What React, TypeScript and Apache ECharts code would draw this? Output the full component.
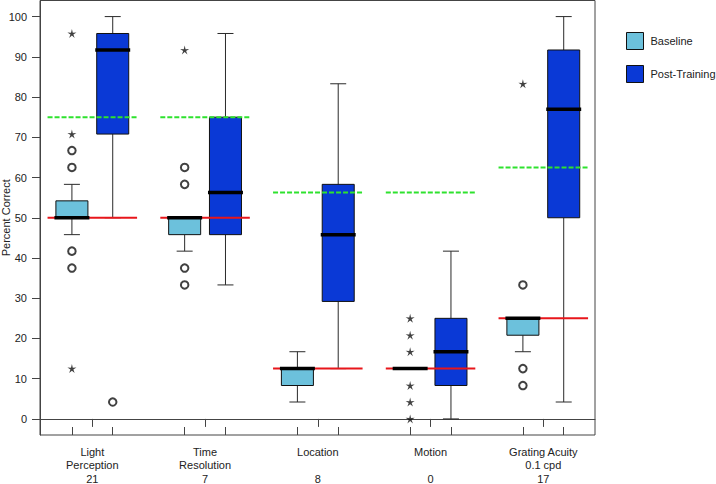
import React, { useEffect, useRef } from 'react';
import * as echarts from 'echarts';

// ---------- data ----------
const categoryLabels = [
  'Light\nPerception\n21',
  'Time\nResolution\n7',
  'Location\n\n8',
  'Motion\n\n0',
  'Grating Acuity\n0.1 cpd\n17',
];
const categoryPositions = [1, 2, 3, 4, 5];
const yTicks = [0, 10, 20, 30, 40, 50, 60, 70, 80, 90, 100];

// [lower whisker, Q1, median, Q3, upper whisker]
const baselineStats = [
  [45.8, 50, 50, 54.2, 58.3],
  [41.7, 45.8, 50, 50, 50],
  [4.2, 8.3, 12.5, 12.5, 16.7],
  [12.5, 12.5, 12.5, 12.5, 12.5],
  [16.7, 20.8, 25, 25, 25],
];
const postStats = [
  [50, 70.8, 91.7, 95.8, 100],
  [33.3, 45.8, 56.25, 75, 95.8],
  [12.5, 29.2, 45.8, 58.3, 83.3],
  [0, 8.3, 16.7, 25, 41.7],
  [4.2, 50, 77, 91.7, 100],
];

// outliers: [category position, value]
const baselineCircles = [
  [1, 66.7], [1, 62.5], [1, 41.7], [1, 37.5],
  [2, 62.5], [2, 58.3], [2, 37.5], [2, 33.3],
  [5, 33.3], [5, 12.5], [5, 8.3],
];
const baselineStars = [
  [1, 95.8], [1, 70.8], [1, 12.5],
  [2, 91.7],
  [4, 25], [4, 20.8], [4, 16.7], [4, 8.3], [4, 4.2], [4, 0],
  [5, 83.3],
];
const postCircles = [[1, 4.2]];
const postStars: number[][] = [];

const chanceLevel = [50, 50, 12.5, 12.5, 25];
const criterionLevel = [75, 75, 56.25, 56.25, 62.5];

// ---------- layout / style ----------
const X_MIN = 0.536;
const X_MAX = 5.4585;
const OFFSET = 0.181;
const BOX_HALF = 0.142;
const MEDIAN_HALF = 0.155;
const LINE_HALF = 0.397;
const CAP_HALF_PX = 8;

const BASE_COLOR = '#6cc1dc';
const POST_COLOR = '#0a39d6';
const RED = '#e8161b';
const GREEN = '#2ee22e';
const FONT = '"Liberation Sans", Arial, sans-serif';
const TEXT = '#222';
const AXIS = '#444';

const STAR_PATH =
  'path://M0,-10 L1.9,-2.6 L9.51,-3.09 L3.1,1.0 L5.88,8.09 L0,3.3 L-5.88,8.09 L-3.1,1.0 L-9.51,-3.09 L-1.9,-2.6 Z';

function boxRenderer(color: string) {
  return (_params: any, api: any) => {
    const x = api.value(0);
    const lo = api.value(1);
    const q1 = api.value(2);
    const q3 = api.value(4);
    const hi = api.value(5);
    const [cx, yHi] = api.coord([x, hi]);
    const yLo = api.coord([x, lo])[1];
    const yQ1 = api.coord([x, q1])[1];
    const yQ3 = api.coord([x, q3])[1];
    const xl = api.coord([x - BOX_HALF, q1])[0];
    const xr = api.coord([x + BOX_HALF, q1])[0];
    const ws = { stroke: '#2a2a2a', lineWidth: 1 };
    return {
      type: 'group',
      children: [
        { type: 'line', shape: { x1: cx, y1: yQ3, x2: cx, y2: yHi }, style: ws },
        { type: 'line', shape: { x1: cx - CAP_HALF_PX, y1: yHi, x2: cx + CAP_HALF_PX, y2: yHi }, style: ws },
        { type: 'line', shape: { x1: cx, y1: yQ1, x2: cx, y2: yLo }, style: ws },
        { type: 'line', shape: { x1: cx - CAP_HALF_PX, y1: yLo, x2: cx + CAP_HALF_PX, y2: yLo }, style: ws },
        {
          type: 'rect',
          shape: { x: xl, y: yQ3, width: xr - xl, height: yQ1 - yQ3 },
          style: { fill: color, stroke: '#111', lineWidth: 1 },
        },
      ],
    };
  };
}

export default function App() {
  const ref = useRef<HTMLDivElement>(null);

  useEffect(() => {
    if (!ref.current) return;
    const chart = echarts.init(ref.current, null, { renderer: 'svg' });

    const baseBoxData = baselineStats.map((s, i) => [categoryPositions[i] - OFFSET, ...s]);
    const postBoxData = postStats.map((s, i) => [categoryPositions[i] + OFFSET, ...s]);
    const medianData = [
      ...baselineStats.map((s, i) => [categoryPositions[i] - OFFSET, s[2]]),
      ...postStats.map((s, i) => [categoryPositions[i] + OFFSET, s[2]]),
    ];
    const refData = categoryPositions.map((p, i) => [p, chanceLevel[i], criterionLevel[i]]);
    const boxTickPositions = categoryPositions.flatMap((p) => [p - OFFSET, p + OFFSET]);

    const option: any = {
      animation: false,
      backgroundColor: '#fff',
      textStyle: { fontFamily: FONT },
      grid: {
        left: 40,
        right: 121,
        top: 0.5,
        bottom: 49,
        show: true,
        borderColor: AXIS,
        borderWidth: 1,
        outerBoundsMode: 'none',
        containLabel: false,
      },
      legend: {
        orient: 'vertical',
        left: 626,
        top: 32,
        padding: 0,
        itemWidth: 17,
        itemHeight: 17,
        itemGap: 15,
        selectedMode: false,
        textStyle: { fontSize: 11, color: TEXT, fontFamily: FONT, padding: [0, 0, 0, 2], overflow: 'none' },
        data: [
          { name: 'Baseline', icon: 'rect', itemStyle: { color: BASE_COLOR, borderColor: '#111', borderWidth: 1 } },
          { name: 'Post-Training', icon: 'rect', itemStyle: { color: POST_COLOR, borderColor: '#111', borderWidth: 1 } },
        ],
      },
      xAxis: [
        {
          type: 'value',
          min: X_MIN,
          max: X_MAX,
          axisLine: { show: true, lineStyle: { color: AXIS, width: 1 } },
          axisTick: {
            show: true,
            inside: false,
            length: 8,
            customValues: categoryPositions,
            lineStyle: { color: AXIS },
          },
          axisLabel: {
            show: true,
            customValues: categoryPositions,
            formatter: (v: number) => categoryLabels[Math.round(v) - 1] ?? '',
            fontSize: 11,
            lineHeight: 13.5,
            color: TEXT,
            margin: 10,
            fontFamily: FONT,
          },
          splitLine: { show: false },
        },
        {
          type: 'value',
          min: X_MIN,
          max: X_MAX,
          position: 'bottom',
          axisLine: { show: false },
          axisTick: {
            show: true,
            inside: true,
            length: 8,
            customValues: boxTickPositions,
            lineStyle: { color: AXIS },
          },
          axisLabel: { show: false },
          splitLine: { show: false },
        },
      ],
      yAxis: {
        type: 'value',
        min: -4,
        max: 104,
        name: 'Percent Correct',
        nameLocation: 'middle',
        nameGap: 29,
        nameRotate: 90,
        nameMoveOverlap: false,
        nameTextStyle: { fontSize: 11, color: TEXT, fontFamily: FONT },
        axisLine: { show: true, lineStyle: { color: AXIS } },
        axisTick: { show: true, length: 8, customValues: yTicks, lineStyle: { color: AXIS } },
        axisLabel: {
          customValues: yTicks,
          fontSize: 11,
          color: TEXT,
          margin: 13,
          fontFamily: FONT,
        },
        splitLine: { show: false },
      },
      series: [
        {
          name: 'Baseline',
          type: 'custom',
          xAxisIndex: 0,
          renderItem: boxRenderer(BASE_COLOR),
          itemStyle: { color: BASE_COLOR },
          encode: { x: 0, y: [1, 2, 3, 4, 5] },
          data: baseBoxData,
          z: 2,
        },
        {
          name: 'Post-Training',
          type: 'custom',
          xAxisIndex: 0,
          renderItem: boxRenderer(POST_COLOR),
          itemStyle: { color: POST_COLOR },
          encode: { x: 0, y: [1, 2, 3, 4, 5] },
          data: postBoxData,
          z: 2,
        },
        {
          name: 'levels',
          type: 'custom',
          xAxisIndex: 0,
          encode: { x: 0, y: [1, 2] },
          renderItem: (_p: any, api: any) => {
            const x = api.value(0);
            const red = api.value(1);
            const green = api.value(2);
            const [rx1, ry] = api.coord([x - LINE_HALF, red]);
            const rx2 = api.coord([x + LINE_HALF, red])[0];
            const [gx1, gy] = api.coord([x - LINE_HALF, green]);
            const gx2 = api.coord([x + LINE_HALF, green])[0];
            return {
              type: 'group',
              children: [
                { type: 'line', shape: { x1: rx1, y1: ry, x2: rx2, y2: ry }, style: { stroke: RED, lineWidth: 2 } },
                {
                  type: 'line',
                  shape: { x1: gx1, y1: gy, x2: gx2, y2: gy },
                  style: { stroke: GREEN, lineWidth: 2, lineDash: [5, 2] },
                },
              ],
            };
          },
          data: refData,
          z: 3,
        },
        {
          name: 'medians',
          type: 'custom',
          xAxisIndex: 0,
          encode: { x: 0, y: 1 },
          renderItem: (_p: any, api: any) => {
            const x = api.value(0);
            const m = api.value(1);
            const [x1, y] = api.coord([x - MEDIAN_HALF, m]);
            const x2 = api.coord([x + MEDIAN_HALF, m])[0];
            return { type: 'line', shape: { x1, y1: y, x2, y2: y }, style: { stroke: '#000', lineWidth: 3.5 } };
          },
          data: medianData,
          z: 4,
        },
        {
          name: 'baseline circles',
          type: 'scatter',
          xAxisIndex: 0,
          symbol: 'emptyCircle',
          symbolSize: 7.5,
          itemStyle: { color: '#111', borderWidth: 1 },
          data: baselineCircles.map(([c, v]) => [c - OFFSET, v]),
          z: 5,
        },
        {
          name: 'baseline stars',
          type: 'scatter',
          xAxisIndex: 0,
          symbol: STAR_PATH,
          symbolSize: [9, 9],
          itemStyle: { color: '#111' },
          data: baselineStars.map(([c, v]) => [c - OFFSET, v]),
          z: 5,
        },
        {
          name: 'post circles',
          type: 'scatter',
          xAxisIndex: 0,
          symbol: 'emptyCircle',
          symbolSize: 7.5,
          itemStyle: { color: '#111', borderWidth: 1 },
          data: postCircles.map(([c, v]) => [c + OFFSET, v]),
          z: 5,
        },
        {
          name: 'post stars',
          type: 'scatter',
          xAxisIndex: 0,
          symbol: STAR_PATH,
          symbolSize: [9, 9],
          itemStyle: { color: '#111' },
          data: postStars.map(([c, v]) => [c + OFFSET, v]),
          z: 5,
        },
      ],
    };

    chart.setOption(option);
    return () => chart.dispose();
  }, []);

  return (
    <div
      ref={ref}
      style={{ position: 'fixed', left: 0, top: 0, width: 716, height: 484, background: '#fff' }}
    />
  );
}
